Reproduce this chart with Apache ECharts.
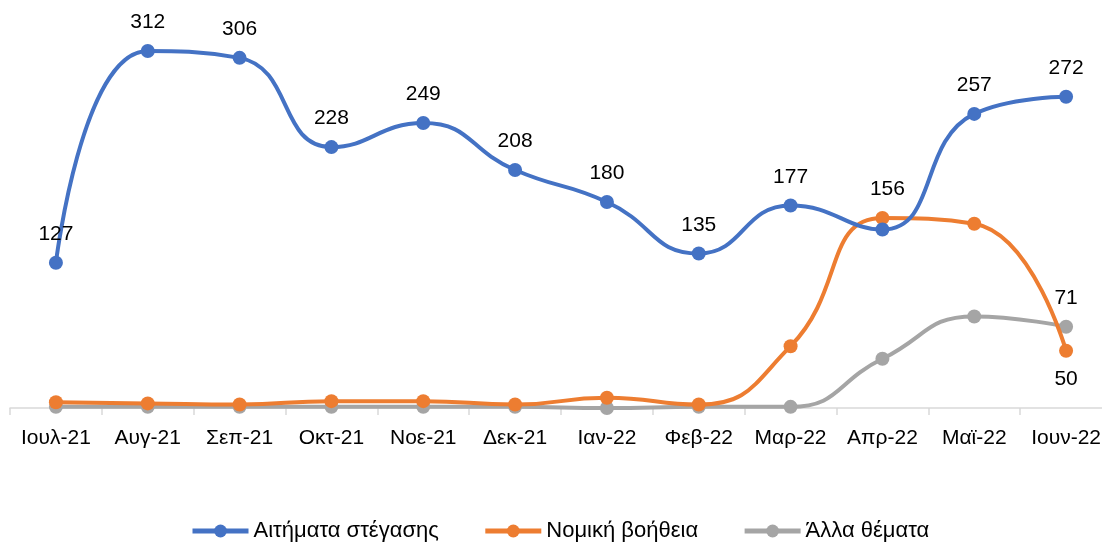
<!DOCTYPE html>
<html>
<head>
<meta charset="utf-8">
<script src="https://cdn.jsdelivr.net/npm/echarts@6/dist/echarts.min.js"></script>
<style>
  html, body { margin: 0; padding: 0; background: #fff; overflow: hidden; }
  /* ο καμβάς λίγο πλατύτερος από το παράθυρο, όπως στο πρωτότυπο ο άξονας κόβεται δεξιά */
  #main { width: 1112px; height: 544px; }
</style>
</head>
<body>
<div id="main"></div>
<script>
// Μήνες (άξονας Χ)
const months = ["Ιουλ-21", "Αυγ-21", "Σεπ-21", "Οκτ-21", "Νοε-21", "Δεκ-21",
  "Ιαν-22", "Φεβ-22", "Μαρ-22", "Απρ-22", "Μαϊ-22", "Ιουν-22"];

// Τιμές σειρών
const housing = [127, 312, 306, 228, 249, 208, 180, 135, 177, 156, 257, 272];
const legalAid = [5, 4, 3, 6, 6, 3, 9, 3, 54, 166, 161, 50];
const otherTopics = [1, 1, 1, 1, 1, 1, 0, 1, 1, 43, 80, 71];

const seriesNames = ["Αιτήματα στέγασης", "Νομική βοήθεια", "Άλλα θέματα"];

const FONT = "Liberation Sans";

document.addEventListener("DOMContentLoaded", () => {
  const chart = echarts.init(document.getElementById("main"));

  // ετικέτες μπλε σειράς, η Απρ-22 λίγο πιο ψηλά
  const housingData = housing.map((v, i) => {
    if (i === 9) {
      return { value: v, label: { offset: [5, -12] } };
    }
    return v;
  });

  // ετικέτα μόνο στο τελευταίο σημείο
  const lastOnly = (arr, pos) => arr.map((v, i) =>
    i === arr.length - 1 ? { value: v, label: { show: true, position: pos, distance: 11 } } : v);

  const option = {
    animation: false,
    textStyle: { fontFamily: FONT },
    grid: { left: 10, right: 0, top: 7.5, bottom: 136, containLabel: false },
    legend: {
      bottom: -3,
      left: 185,
      itemWidth: 56,
      itemHeight: 16,
      itemGap: 44,
      lineStyle: { width: 5 },
      textStyle: { fontSize: 22, color: "#000", fontFamily: FONT },
      data: seriesNames
    },
    xAxis: {
      type: "category",
      data: months,
      boundaryGap: true,
      axisLine: { lineStyle: { color: "#d9d9d9", width: 1.5 } },
      axisTick: { show: true, length: 7, lineStyle: { color: "#d9d9d9", width: 1.5 } },
      axisLabel: { interval: 0, fontSize: 21, color: "#000", margin: 20, fontFamily: FONT }
    },
    yAxis: {
      type: "value",
      min: 0,
      max: 350,
      show: false,
      splitLine: { show: false }
    },
    series: [
      {
        name: seriesNames[0],
        type: "line",
        smooth: 0.5,
        data: housingData,
        color: "#4472C4",
        symbol: "circle",
        symbolSize: 14,
        lineStyle: { width: 4 },
        label: { show: true, position: "top", distance: 11, fontSize: 21, color: "#000" },
        z: 3
      },
      {
        name: seriesNames[1],
        type: "line",
        smooth: 0.5,
        data: lastOnly(legalAid, "bottom"),
        color: "#ED7D31",
        symbol: "circle",
        symbolSize: 14,
        lineStyle: { width: 4 },
        label: { show: false, fontSize: 21, color: "#000" },
        z: 2
      },
      {
        name: seriesNames[2],
        type: "line",
        smooth: 0.5,
        data: lastOnly(otherTopics, "top"),
        color: "#A5A5A5",
        symbol: "circle",
        symbolSize: 14,
        lineStyle: { width: 4 },
        label: { show: false, fontSize: 21, color: "#000" },
        z: 1
      }
    ]
  };

  chart.setOption(option);
});
</script>
</body>
</html>
